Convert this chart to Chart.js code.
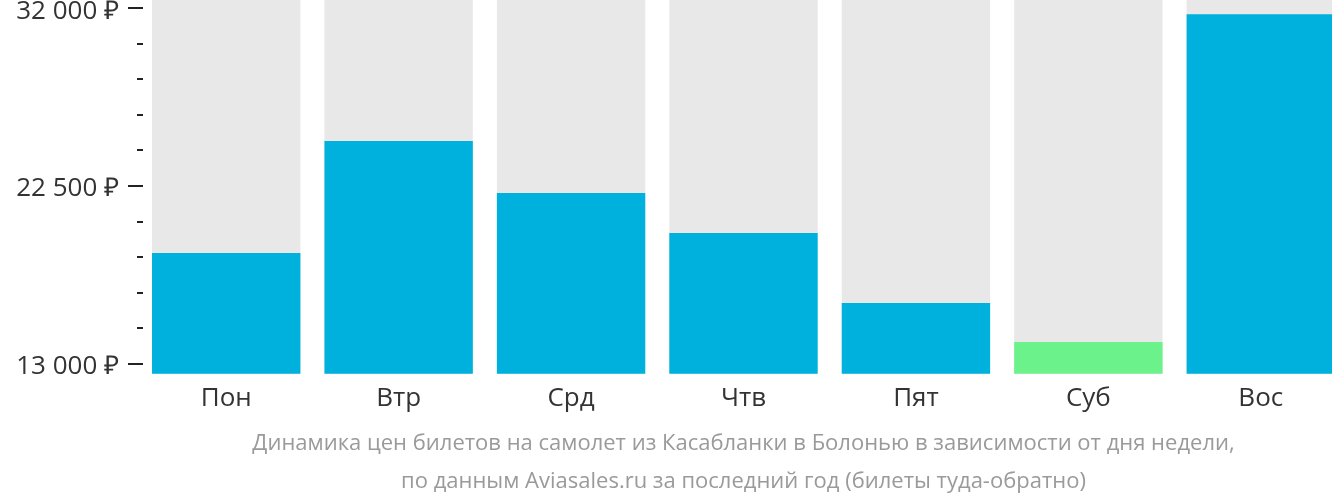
<!DOCTYPE html>
<html>
<head>
<meta charset="utf-8">
<script src="https://cdn.jsdelivr.net/npm/chart.js@4"></script>
<style>
  html, body { margin: 0; padding: 0; background: #fff; overflow: hidden; }
  #wrap { width: 1347px; height: 502px; }
</style>
</head>
<body>
<div id="wrap"><canvas id="priceChart"></canvas></div>
<script>
var days = ["Пон", "Втр", "Срд", "Чтв", "Пят", "Суб", "Вос"];
var prices = [18920, 24900, 22130, 19990, 16250, 14170, 31680];
var barColors = ["#00b1dd", "#00b1dd", "#00b1dd", "#00b1dd", "#00b1dd", "#6cf28a", "#00b1dd"];
var tickValues = [13000, 14900, 16800, 18700, 20600, 22500, 24400, 26300, 28200, 30100, 32000];
var labeledTicks = [13000, 22500, 32000];
var captionLines = ["Динамика цен билетов на самолет из Касабланки в Болонью в зависимости от дня недели,",
                    "по данным Aviasales.ru за последний год (билеты туда-обратно)"];
var yMin = 12465;
var yMax = 32440;

function rub(v) {
    return String(v).replace(/\B(?=(\d{3})+(?!\d))/g, " ") + " ₽";
}

// tick marks drawn by hand: long ones for labelled values, short for the rest
var tickMarks = {
    id: "tickMarks",
    afterDraw: function (chart) {
        var y = chart.scales.y;
        var left = chart.chartArea.left;
        var ctx = chart.ctx;
        ctx.save();
        ctx.strokeStyle = "#222";
        ctx.lineWidth = 2;
        tickValues.forEach(function (v) {
            var py = Math.round(y.getPixelForValue(v));
            var major = labeledTicks.indexOf(v) >= 0;
            ctx.beginPath();
            ctx.moveTo(left + 3, py);
            ctx.lineTo(left - (major ? 12 : 3), py);
            ctx.stroke();
        });
        ctx.restore();
    }
};

// caption centred under the plot area, not the whole canvas
var caption = {
    id: "caption",
    afterDraw: function (chart) {
        var a = chart.chartArea;
        var ctx = chart.ctx;
        ctx.save();
        ctx.fillStyle = "#9a9a9a";
        ctx.font = "22px 'Open Sans'";
        ctx.textAlign = "center";
        ctx.textBaseline = "middle";
        captionLines.forEach(function (t, i) {
            ctx.fillText(t, (a.left + a.right) / 2, a.bottom + 70 + i * 38);
        });
        ctx.restore();
    }
};

new Chart("priceChart", {
    type: "bar",
    data: {
        labels: days,
        datasets: [{
            data: prices,
            backgroundColor: barColors,
            order: 1,
            grouped: false,
            barPercentage: 0.8605,
            categoryPercentage: 1
        }, {
            data: days.map(function () { return yMax; }),
            backgroundColor: "#e8e8e8",
            order: 2,
            grouped: false,
            barPercentage: 0.8605,
            categoryPercentage: 1
        }]
    },
    options: {
        responsive: true,
        maintainAspectRatio: false,
        animation: false,
        layout: { padding: { top: 0, bottom: 87 } },
        plugins: {
            legend: { display: false },
            tooltip: { enabled: false }
        },
        scales: {
            x: {
                grid: { display: false },
                border: { display: false },
                ticks: {
                    color: "#333",
                    font: { family: "Open Sans", size: 26 },
                    padding: 1
                }
            },
            y: {
                min: yMin,
                max: yMax,
                grid: { display: false },
                border: { display: false },
                afterBuildTicks: function (scale) {
                    scale.ticks = tickValues.map(function (v) { return { value: v }; });
                },
                afterFit: function (scale) {
                    scale.width = 140;
                    scale.paddingTop = 0;
                    scale.paddingBottom = 0;
                },
                ticks: {
                    color: "#333",
                    font: { family: "Open Sans", size: 26 },
                    padding: 13,
                    labelOffset: 3,
                    autoSkip: false,
                    callback: function (v) {
                        return labeledTicks.indexOf(v) >= 0 ? rub(v) : "";
                    }
                }
            }
        }
    },
    plugins: [tickMarks, caption]
});
</script>
</body>
</html>
